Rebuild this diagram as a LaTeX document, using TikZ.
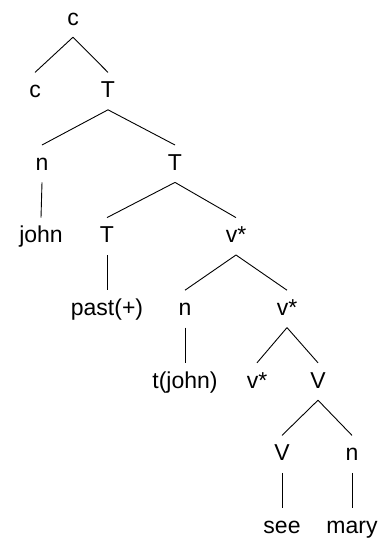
\documentclass[tikz,border=0pt]{standalone}
\usepackage{fontspec}
\setmainfont{Liberation Sans}

\begin{document}
\begin{tikzpicture}[x=1pt,y=-1pt,
        cat/.style={anchor=base, inner xsep=2pt, inner ysep=7pt,
            text height=18pt, text depth=5pt,
            font=\fontsize{23}{27}\selectfont},
        branch/.style={line width=0.9pt}]
    \useasboundingbox (0,0) rectangle (379,538);

    \node [cat] (c0) at (73, 25) {c};
    \node [cat] (c1) at (35, 97.6) {c};
    \node [cat] (t1) at (108, 97.6) {T};
    \node [cat] (n1) at (42, 170.2) {n};
    \node [cat] (t2) at (175, 170.2) {T};
    \node [cat] (john) at (41, 242.8) {john};
    \node [cat] (t3) at (107, 242.8) {T};
    \node [cat] (vs1) at (236, 242.8) {v*};
    \node [cat] (past) at (107, 315.4) {past(+)};
    \node [cat] (n2) at (185, 315.4) {n};
    \node [cat] (vs2) at (287, 315.4) {v*};
    \node [cat] (trace) at (185, 388) {t(john)};
    \node [cat] (vs3) at (257, 388) {v*};
    \node [cat] (v1) at (318, 388) {V};
    \node [cat] (v2) at (282, 460.6) {V};
    \node [cat] (n3) at (352, 460.6) {n};
    \node [cat] (see) at (282, 533.2) {see};
    \node [cat] (mary) at (352, 533.2) {mary};

    \draw [branch] (c0.south) -- (c1.north);
    \draw [branch] (c0.south) -- (t1.north);
    \draw [branch] (t1.south) -- (n1.north);
    \draw [branch] (t1.south) -- (t2.north);
    \draw [branch] (n1.south) -- (john.north);
    \draw [branch] (t2.south) -- (t3.north);
    \draw [branch] (t2.south) -- (vs1.north);
    \draw [branch] (t3.south) -- (past.north);
    \draw [branch] (vs1.south) -- (n2.north);
    \draw [branch] (vs1.south) -- (vs2.north);
    \draw [branch] (n2.south) -- (trace.north);
    \draw [branch] (vs2.south) -- (vs3.north);
    \draw [branch] (vs2.south) -- (v1.north);
    \draw [branch] (v1.south) -- (v2.north);
    \draw [branch] (v1.south) -- (n3.north);
    \draw [branch] (v2.south) -- (see.north);
    \draw [branch] (n3.south) -- (mary.north);
\end{tikzpicture}
\end{document}
